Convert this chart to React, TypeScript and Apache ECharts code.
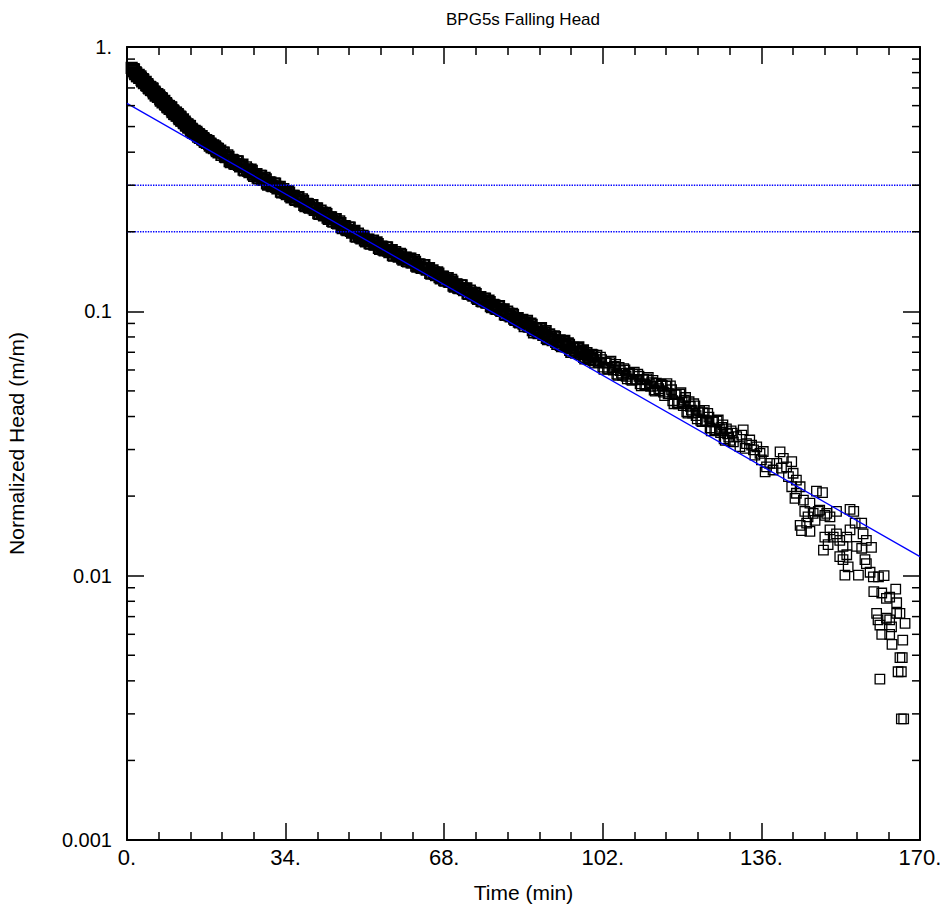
import React, { useEffect, useRef } from 'react';
import * as echarts from 'echarts';

// ---- axes ----
const X_MIN = 0;
const X_MAX = 170;
const X_STEP = 34;
const Y_MIN = 0.001;
const Y_MAX = 1;
const xTickLabels = ['0.', '34.', '68.', '102.', '136.', '170.'];
const yTickLabels = ['0.001', '0.01', '0.1', '1.'];
const yMinorTickValues = [
  0.002, 0.003, 0.004, 0.005, 0.006, 0.007, 0.008, 0.009,
  0.02, 0.03, 0.04, 0.05, 0.06, 0.07, 0.08, 0.09,
  0.2, 0.3, 0.4, 0.5, 0.6, 0.7, 0.8, 0.9,
];

// ---- observed normalized head, logged at a regular interval (min) ----
const segAStart = 1;
const segAStep = 0.25;
const segAHead = [
  0.8334, 0.8125, 0.821, 0.7897, 0.7945, 0.7757, 0.785, 0.7665, 0.7643, 0.7405,
  0.7517, 0.7329, 0.7383, 0.7144, 0.7145, 0.6975, 0.7049, 0.6873, 0.6945, 0.6679,
  0.672, 0.656, 0.664, 0.6483, 0.6464, 0.6263, 0.636, 0.6203, 0.6252, 0.6052,
  0.6055, 0.5913, 0.5978, 0.5831, 0.5894, 0.5671, 0.5709, 0.5576, 0.5645, 0.5514,
  0.55, 0.5331, 0.5414, 0.5281, 0.5323, 0.5152, 0.5155, 0.5035, 0.509, 0.4964,
  0.5018, 0.4829, 0.4861, 0.4747, 0.4813, 0.4712, 0.471, 0.4575, 0.4657, 0.4552,
  0.4598, 0.4461, 0.4474, 0.4379, 0.4437, 0.4337, 0.4394, 0.4237, 0.4274, 0.4184,
  0.4245, 0.4156, 0.4155, 0.4036, 0.4108, 0.4016, 0.4056,
];
const segA2Start = 1.125;
const segA2Step = 0.25;
const segA2Head = [
  0.8131, 0.8241, 0.8023, 0.8023, 0.7762, 0.7833, 0.7648, 0.7752, 0.7512, 0.7568,
  0.7301, 0.7334, 0.7193, 0.7236, 0.7012, 0.7065, 0.6877, 0.6971, 0.6786, 0.6786,
  0.6565, 0.6625, 0.6468, 0.6556, 0.6353, 0.6402, 0.6178, 0.6209, 0.6092, 0.6131,
  0.5943, 0.5991, 0.5834, 0.5915, 0.5761, 0.5763, 0.5579, 0.5632, 0.55, 0.5577,
  0.5407, 0.545, 0.526, 0.5286, 0.5186, 0.522, 0.506, 0.5101, 0.4967, 0.5036,
  0.4905, 0.4907, 0.4749, 0.4798, 0.4695, 0.4771, 0.4636, 0.4683, 0.4529, 0.4562,
  0.4486, 0.4525, 0.4396, 0.4441, 0.4334, 0.4405, 0.4299, 0.431, 0.4181, 0.423,
  0.4141, 0.4208, 0.4089, 0.413, 0.3995, 0.4024,
];

const segBStart = 20.5;
const segBStep = 0.5;
const segBHead = [
  0.3987, 0.3847, 0.3894, 0.3703, 0.374, 0.3627, 0.3692, 0.3583, 0.3574, 0.3433,
  0.3508, 0.3396, 0.3437, 0.3294, 0.3301, 0.3201, 0.3252, 0.3151, 0.3202, 0.3046,
  0.3078, 0.2989, 0.3043, 0.2955, 0.2949, 0.2834, 0.2899, 0.2808, 0.2843, 0.2727,
  0.2733, 0.2653, 0.2697, 0.2613, 0.2655, 0.2527, 0.2553, 0.2479, 0.2524, 0.2451,
  0.2446, 0.2351, 0.2404, 0.233, 0.2358, 0.2263, 0.2266, 0.2197, 0.2231, 0.216,
  0.2192, 0.2084, 0.2103, 0.204, 0.2076, 0.2013, 0.2007, 0.1927, 0.1968, 0.1905,
  0.1932, 0.1856, 0.1864, 0.1812, 0.1845, 0.1791, 0.1823, 0.1737, 0.1758, 0.171,
  0.1743, 0.1696, 0.1695, 0.1632, 0.1676, 0.1627, 0.165, 0.1587, 0.1593, 0.155,
];
const segB2Start = 20.25;
const segB2Step = 0.5;
const segB2Head = [
  0.391, 0.3986, 0.3831, 0.3837, 0.3666, 0.3726, 0.3609, 0.3691, 0.3537, 0.3587,
  0.3413, 0.3447, 0.336, 0.3399, 0.3256, 0.3303, 0.3183, 0.3258, 0.3144, 0.3155,
  0.3016, 0.3069, 0.2973, 0.3044, 0.2918, 0.296, 0.2819, 0.2848, 0.2778, 0.2814,
  0.2696, 0.2736, 0.264, 0.2702, 0.2607, 0.2616, 0.2502, 0.2546, 0.2466, 0.2524,
  0.2421, 0.2455, 0.2338, 0.2363, 0.2304, 0.2333, 0.2236, 0.2267, 0.2185, 0.2234,
  0.2153, 0.2159, 0.2063, 0.2096, 0.2029, 0.2075, 0.1986, 0.2014, 0.1915, 0.1933,
  0.1887, 0.1914, 0.1837, 0.1867, 0.1804, 0.185, 0.1788, 0.1798, 0.1721, 0.1755,
  0.1702, 0.1746, 0.1676, 0.1703, 0.1626, 0.1649, 0.1611, 0.1635, 0.157, 0.1597,
];

const segCStart = 60.5;
const segCStep = 0.5;
const segCHead = [
  0.1579, 0.1533, 0.1561, 0.1488, 0.1507, 0.1465, 0.1496, 0.1455, 0.1453, 0.1397,
  0.1429, 0.1386, 0.1403, 0.1347, 0.1351, 0.1312, 0.1334, 0.1294, 0.1315, 0.1252,
  0.1266, 0.123, 0.1253, 0.1217, 0.1216, 0.1169, 0.1197, 0.1159, 0.1174, 0.1126,
  0.1129, 0.1096, 0.1115, 0.108, 0.1099, 0.1046, 0.1057, 0.1026, 0.1045, 0.1015,
  0.1014, 0.0974, 0.0997, 0.0966, 0.0978, 0.0939, 0.0941, 0.0914, 0.0927, 0.0899,
  0.0909, 0.0878, 0.0899, 0.0848, 0.0862, 0.0834, 0.0857, 0.0829, 0.083, 0.0793,
  0.0818, 0.079, 0.0805, 0.0767, 0.0772, 0.0747, 0.0765, 0.0739, 0.0756, 0.0714,
  0.0727, 0.0703, 0.0723, 0.0701, 0.0703, 0.0672, 0.0695, 0.0671, 0.0685, 0.0653,
];
const segC2Start = 60.25;
const segC2Step = 0.5;
const segC2Head = [
  0.1544, 0.1584, 0.1531, 0.154, 0.1475, 0.1504, 0.1459, 0.1497, 0.1437, 0.1458,
  0.1389, 0.1405, 0.1371, 0.1389, 0.1332, 0.1353, 0.1306, 0.1337, 0.1291, 0.1296,
  0.124, 0.1262, 0.1224, 0.1253, 0.1202, 0.1221, 0.1163, 0.1176, 0.1147, 0.1162,
  0.1114, 0.1131, 0.1091, 0.1118, 0.1078, 0.1083, 0.1036, 0.1054, 0.1021, 0.1046,
  0.1003, 0.1018, 0.0969, 0.098, 0.0956, 0.0969, 0.0928, 0.0942, 0.0909, 0.0929,
  0.0879, 0.092, 0.0876, 0.0888, 0.0833, 0.0863, 0.0827, 0.0865, 0.0815, 0.0841,
  0.0784, 0.0803, 0.0778, 0.0799, 0.0753, 0.0777, 0.0739, 0.0774, 0.0737, 0.0747,
  0.0702, 0.0728, 0.0698, 0.0731, 0.069, 0.0712, 0.0664, 0.0682, 0.0661, 0.0681,
];

const segDStart = 100.5;
const segDStep = 0.5;
const segDHead = [
  0.0673, 0.0641, 0.0671, 0.0615, 0.0637, 0.0608, 0.064, 0.0613, 0.0619, 0.0579,
  0.0614, 0.0584, 0.0607, 0.0567, 0.0578, 0.0553, 0.058, 0.0553, 0.0579, 0.0532,
  0.0551, 0.0528, 0.0555, 0.0532, 0.0537, 0.0504, 0.0535, 0.051, 0.053, 0.0495,
  0.0521, 0.0487, 0.0522, 0.0459, 0.0484, 0.0451, 0.0486, 0.0454, 0.0461, 0.0417,
  0.0455, 0.0423, 0.0447, 0.0403, 0.0414, 0.0387, 0.0414, 0.0385, 0.0411, 0.0362,
  0.0382, 0.0356, 0.0384, 0.0359, 0.0364, 0.0329, 0.0359, 0.0334, 0.0353,
];
const segD2Start = 100.25;
const segD2Step = 0.5;
const segD2Head = [
  0.0637, 0.0683, 0.0642, 0.0657, 0.0603, 0.0638, 0.0604, 0.0648, 0.06, 0.063,
  0.0573, 0.0597, 0.0573, 0.06, 0.0555, 0.0584, 0.0548, 0.0589, 0.0553, 0.0568,
  0.0522, 0.0553, 0.0524, 0.0563, 0.052, 0.0548, 0.0499, 0.0521, 0.0501, 0.0524,
  0.048, 0.0533, 0.0488, 0.0505, 0.0447, 0.0484, 0.0447, 0.0492, 0.044, 0.0472,
  0.0412, 0.0437, 0.0412, 0.0439, 0.0392, 0.042, 0.0383, 0.0422, 0.0386, 0.0398,
  0.0353, 0.0382, 0.0354, 0.0388, 0.0348, 0.0372, 0.0325, 0.0344, 0.0325, 0.0346,
];

// ---- scattered tail of the test (min, m/m) ----
const tailTime = [
  130.0, 130.7, 131.4, 131.8, 132.1, 132.5, 132.8, 133.5, 133.9, 134.3,
  134.6, 135.0, 135.7, 136.0, 136.4, 136.8, 137.1, 137.8, 138.5, 139.3,
  140.0, 140.3, 140.7, 141.4, 141.8, 142.5, 142.5, 142.8, 143.2, 143.5,
  143.5, 144.3, 144.3, 144.6, 145.0, 145.3, 145.7, 146.0, 146.4, 146.4,
  147.1, 147.5, 147.8, 148.2, 148.5, 149.1, 149.3, 149.6, 149.6, 150.0,
  150.3, 150.7, 150.7, 151.4, 152.1, 152.1, 152.8, 152.8, 153.5, 153.5,
  153.9, 154.3, 154.3, 154.6, 155.0, 155.0, 155.8, 156.1, 156.4, 156.8,
  157.5, 157.5, 157.8, 158.2, 158.5, 158.5, 159.3, 159.6, 160.0, 160.1,
  160.7, 161.0, 161.1, 161.4, 161.4, 161.8, 161.8, 162.3, 162.8, 162.8,
  163.5, 163.5, 163.5, 163.9, 164.0, 164.8, 165.0, 165.0, 165.3, 165.7,
  165.7, 166.0, 166.0, 166.2, 166.3, 166.5, 166.8,
];
const tailHead = [
  0.0321, 0.0336, 0.0308, 0.034, 0.0356, 0.0303, 0.0316, 0.0326, 0.0312, 0.0299,
  0.0286, 0.0307, 0.029, 0.0274, 0.0295, 0.0247, 0.0258, 0.0266, 0.0251, 0.0266,
  0.0294, 0.0255, 0.0278, 0.0258, 0.0237, 0.027, 0.0217, 0.0244, 0.0196, 0.023,
  0.0205, 0.0217, 0.0155, 0.0148, 0.0193, 0.0175, 0.0158, 0.0167, 0.0188, 0.0147,
  0.0172, 0.0162, 0.0209, 0.0175, 0.0177, 0.0206, 0.0125, 0.0169, 0.014, 0.0172,
  0.0131, 0.0167, 0.0149, 0.014, 0.0175, 0.0144, 0.0136, 0.0118, 0.0129, 0.0115,
  0.01005, 0.014, 0.012, 0.0108, 0.0178, 0.0149, 0.0175, 0.0158, 0.0129, 0.01005,
  0.0158, 0.0127, 0.0144, 0.0115, 0.0136, 0.0111, 0.0103, 0.0128, 0.0099, 0.0087,
  0.0072, 0.0068, 0.0099, 0.0065, 0.00406, 0.0086, 0.006, 0.01, 0.0082, 0.0069,
  0.0083, 0.0068, 0.006, 0.0064, 0.0055, 0.0089, 0.0079, 0.0072, 0.00433, 0.0072,
  0.0049, 0.00433, 0.00287, 0.0049, 0.0057, 0.00287, 0.0066,
];

// ---- straight-line fit and reference levels ----
const fitTime = [0, 170];
const fitHead = [0.612, 0.0118];
const refLevels = [0.3, 0.2];

const FONT = 'Liberation Sans';
const BLUE = '#0000ff';

function regular(start: number, step: number, heads: number[]) {
  return heads.map((h, i) => [Number((start + i * step).toFixed(3)), h]);
}

const denseData = [
  ...regular(segAStart, segAStep, segAHead),
  ...regular(segA2Start, segA2Step, segA2Head),
  ...regular(segB2Start, segB2Step, segB2Head),
  ...regular(segBStart, segBStep, segBHead),
  ...regular(segC2Start, segC2Step, segC2Head),
  ...regular(segCStart, segCStep, segCHead),
];
const sparseData = [
  ...regular(segD2Start, segD2Step, segD2Head),
  ...regular(segDStart, segDStep, segDHead),
  ...tailTime.map((t, i) => [t, tailHead[i]]),
];

const lineStyleAxis = { color: '#000', width: 2 };
const tickStyle = { color: '#000', width: 1.5 };

function scatterSeries(data: number[][], size: number, borderWidth: number) {
  return {
    type: 'scatter',
    xAxisIndex: 0,
    yAxisIndex: 0,
    data,
    symbol: 'rect',
    symbolSize: size,
    silent: true,
    itemStyle: { color: 'rgba(0,0,0,0)', borderColor: '#000', borderWidth, opacity: 1 },
    z: 2,
  };
}

function buildOption(): any {
  const xCommon = {
    type: 'value',
    min: X_MIN,
    max: X_MAX,
    interval: X_STEP,
    axisLine: { show: true, onZero: false, lineStyle: lineStyleAxis },
    axisTick: { show: true, inside: true, length: 17, lineStyle: tickStyle },
    minorTick: { show: true, splitNumber: 5, length: 8, lineStyle: tickStyle },
    splitLine: { show: false },
    minorSplitLine: { show: false },
  };
  const yCommon = {
    type: 'log',
    logBase: 10,
    min: Y_MIN,
    max: Y_MAX,
    axisLine: { show: true, onZero: false, lineStyle: lineStyleAxis },
    axisTick: { show: true, inside: true, length: 17, lineStyle: tickStyle },
    splitLine: { show: false },
  };
  return {
    animation: false,
    backgroundColor: '#fff',
    textStyle: { fontFamily: FONT, color: '#000' },
    title: {
      text: 'BPG5s Falling Head',
      left: 518,
      top: 6,
      textAlign: 'center',
      textStyle: { fontFamily: FONT, fontSize: 17, fontWeight: 'normal', color: '#000' },
    },
    grid: { left: 127, top: 47, right: 21, bottom: 80, containLabel: false, outerBoundsMode: 'none' },
    xAxis: [
      {
        ...xCommon,
        position: 'bottom',
        axisLabel: {
          show: true,
          fontFamily: FONT,
          fontSize: 22,
          color: '#000',
          margin: 6,
          formatter: (v: number) => xTickLabels[Math.round(v / X_STEP)] ?? '',
        },
        name: 'Time (min)',
        nameLocation: 'middle',
        nameGap: 42,
        nameTextStyle: { fontFamily: FONT, fontSize: 21, color: '#000' },
      },
      { ...xCommon, position: 'top', axisLabel: { show: false } },
    ],
    yAxis: [
      {
        ...yCommon,
        position: 'left',
        axisLabel: {
          show: true,
          fontFamily: FONT,
          fontSize: 20,
          color: '#000',
          margin: 15,
          formatter: (v: number) => yTickLabels[Math.round(Math.log10(v)) + 3] ?? '',
        },
        name: 'Normalized Head (m/m)',
        nameLocation: 'middle',
        nameRotate: 90,
        nameGap: 100,
        nameTextStyle: { fontFamily: FONT, fontSize: 21, color: '#000' },
      },
      { ...yCommon, position: 'right', axisLabel: { show: false } },
    ],
    series: [
      scatterSeries(denseData, 10.5, 1.7),
      scatterSeries(sparseData, 9.5, 1.3),
      {
        type: 'line',
        xAxisIndex: 0,
        yAxisIndex: 0,
        color: BLUE,
        data: fitTime.map((t, i) => [t, fitHead[i]]),
        symbol: 'none',
        silent: true,
        lineStyle: { color: BLUE, width: 1.3 },
        z: 3,
      },
      ...refLevels.map((lvl) => ({
        type: 'line',
        xAxisIndex: 0,
        yAxisIndex: 0,
        color: BLUE,
        data: [
          [X_MIN, lvl],
          [X_MAX, lvl],
        ],
        symbol: 'none',
        silent: true,
        lineStyle: { color: BLUE, width: 1.4, type: [1.4, 1.2], opacity: 1 },
        z: 3,
      })),
      {
        type: 'custom',
        xAxisIndex: 0,
        yAxisIndex: 0,
        silent: true,
        clip: false,
        z: 5,
        data: yMinorTickValues.map((v) => [X_MIN, v]),
        renderItem: (params: any, api: any) => {
          const v = api.value(1);
          const pl = api.coord([X_MIN, v]);
          const pr = api.coord([X_MAX, v]);
          return {
            type: 'group',
            children: [
              { type: 'line', shape: { x1: pl[0], y1: pl[1], x2: pl[0] + 8, y2: pl[1] }, style: { stroke: '#000', lineWidth: 1.5 } },
              { type: 'line', shape: { x1: pr[0] - 8, y1: pr[1], x2: pr[0], y2: pr[1] }, style: { stroke: '#000', lineWidth: 1.5 } },
            ],
          };
        },
      },
    ],
  };
}

export default function App() {
  const ref = useRef<HTMLDivElement>(null);
  useEffect(() => {
    if (!ref.current) return;
    const chart = echarts.init(ref.current, null, { renderer: 'svg' });
    chart.setOption(buildOption());
    return () => {
      chart.dispose();
    };
  }, []);
  return (
    <div
      ref={ref}
      style={{ position: 'fixed', left: 0, top: 0, width: 941, height: 920, background: '#fff' }}
    />
  );
}
